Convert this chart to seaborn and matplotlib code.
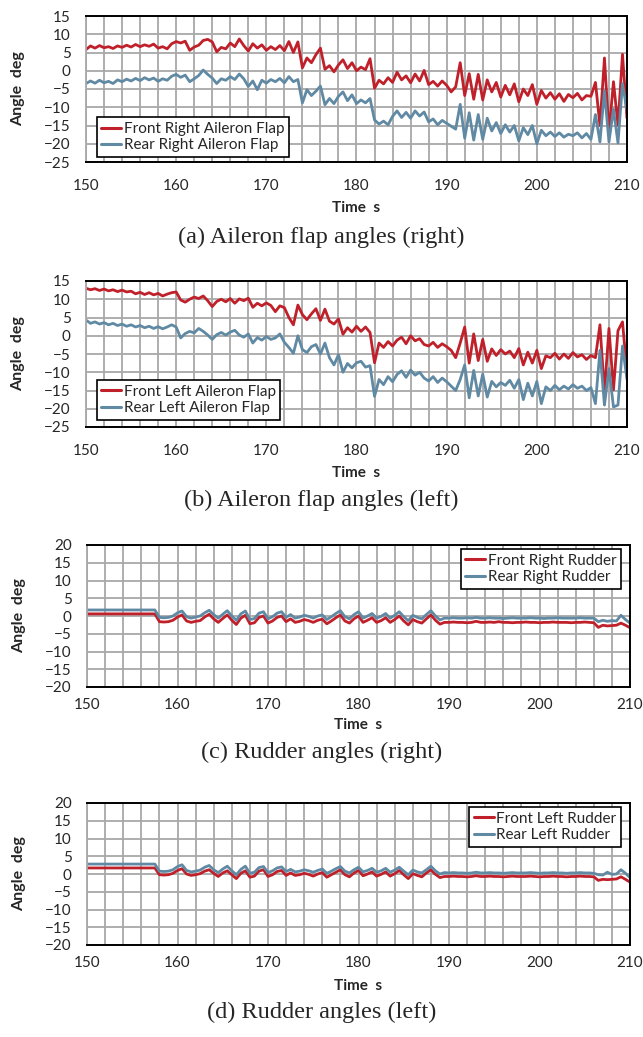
import numpy as np
import pandas as pd
import matplotlib
matplotlib.use("Agg")
import matplotlib.pyplot as plt
import seaborn as sns
from matplotlib.ticker import MultipleLocator

# sample times (s), one reading every 0.5 s
time = np.arange(150, 210.01, 0.5)

# (a) aileron flaps, right side
front_right_aileron = [
    5.8, 6.8, 6.2, 6.9, 6.3, 6.6, 6.1, 6.8, 6.4, 7.0, 6.5, 7.2, 6.6, 7.1, 6.7, 7.3,
    6.2, 6.6, 6.0, 7.4, 8.0, 7.6, 8.1, 5.6, 6.5, 7.0, 8.3, 8.6, 7.9, 5.2, 6.4, 6.0,
    7.6, 6.6, 8.7, 6.9, 5.4, 7.4, 6.2, 7.1, 5.6, 6.6, 5.8, 6.9, 5.5, 8.0, 5.0, 7.9,
    0.8, 3.5, 2.2, 4.4, 6.2, 0.4, 1.4, -0.3, 1.6, 3.0, 0.6, 2.2, 0.0, 1.0, 0.3, 3.3,
    -4.8, -2.6, -3.6, -1.9, -3.2, -0.4, -2.5, -1.4, -3.3, -0.9, -2.8, 0.1, -3.8, -2.9, -4.2, -2.8,
    -4.0, -5.8, -4.4, 2.2, -6.8, -0.8, -7.8, -1.0, -8.0, -2.5, -5.8, -3.2, -7.2, -4.0, -6.6, -3.6,
    -8.5, -5.0, -6.8, -3.8, -9.2, -5.4, -7.5, -6.0, -7.8, -6.3, -8.4, -6.5, -7.4, -6.2, -8.0, -6.8,
    -7.0, -3.2, -15.0, 3.5, -17.0, -3.0, -15.0, 4.5, -13.0,
]
rear_right_aileron = [
    -3.5, -2.8, -3.4, -2.6, -3.3, -2.9, -3.5, -2.5, -3.0, -2.3, -2.8, -2.1, -2.7, -1.9, -2.5, -2.0,
    -2.9, -2.2, -2.6, -1.5, -1.0, -1.8, -1.2, -3.0, -2.2, -1.3, 0.2, -1.0, -2.0, -3.5, -2.2, -2.6,
    -1.6, -2.4, -0.9, -2.2, -4.3, -2.8, -5.2, -2.6, -3.4, -2.4, -3.0, -2.1, -3.3, -1.6, -3.0, -2.4,
    -8.8, -5.2, -6.8, -5.6, -4.2, -9.3, -7.6, -9.0, -7.0, -5.8, -8.2, -6.6, -9.0, -8.0, -8.8, -7.6,
    -13.5, -14.6, -13.8, -14.8, -12.5, -11.0, -12.8, -11.4, -13.0, -11.0, -12.4, -11.3, -14.0, -13.2, -14.8, -13.6,
    -14.4, -15.2, -16.0, -9.2, -18.5, -11.5, -19.0, -12.0, -18.8, -13.0, -16.5, -14.2, -17.2, -14.8, -16.8, -15.0,
    -19.2, -15.6, -17.5, -15.0, -20.0, -16.3, -17.8, -16.8, -18.0, -17.0, -18.2, -17.4, -17.8, -17.0, -18.4, -17.2,
    -18.8, -12.0, -19.5, -5.5, -19.5, -10.5, -19.8, -3.5, -11.0,
]

# (b) aileron flaps, left side
front_left_aileron = [
    13.0, 12.6, 12.9, 12.4, 12.8, 12.3, 12.6, 12.1, 12.5, 12.0, 12.2, 11.5, 11.9, 11.3, 11.8, 11.2,
    11.6, 10.9, 11.4, 11.8, 12.0, 9.8, 9.2, 10.0, 10.6, 10.2, 10.9, 9.6, 8.0, 9.4, 10.0, 9.3,
    10.2, 8.9, 10.1, 9.6, 10.3, 7.8, 8.9, 8.2, 9.0, 8.3, 6.6, 8.2, 7.7, 5.0, 3.0, 8.4,
    5.8, 4.4, 6.0, 7.4, 4.2, 7.3, 4.0, 3.2, 4.6, 0.4, 2.2, 1.0, 2.6, 1.2, 2.4, 0.9,
    -7.4, -2.0, -3.2, -1.6, -2.8, -1.2, -0.4, -2.2, 0.0, -1.4, -0.8, -2.4, -2.8, -1.8, -3.2, -2.2,
    -3.0, -4.0, -6.0, -2.0, 2.4, -7.5, 0.5, -6.8, -1.0, -7.0, -3.6, -5.4, -3.8, -5.0, -4.2, -6.0,
    -3.5, -8.0, -4.5, -7.5, -4.0, -9.0, -5.5, -6.0, -4.8, -6.4, -5.0, -6.2, -4.6, -5.8, -5.2, -6.5,
    -5.4, -6.0, 3.0, -15.5, 2.0, -14.8, 1.4, 3.8, -10.0,
]
rear_left_aileron = [
    4.3, 3.4, 3.8, 3.2, 3.6, 3.0, 3.4, 2.8, 3.2, 2.6, 3.0, 2.4, 2.8, 2.2, 2.6, 2.0,
    2.5, 1.9, 2.4, 3.0, 2.4, -0.6, 0.6, 1.2, 0.8, 2.0, 1.2, 0.2, -1.0, 0.3, 0.9, 0.2,
    1.0, 1.5, 0.2, -0.4, 0.5, -2.0, -0.5, -1.2, -0.2, -1.0, -0.6, 0.5, -1.8, -3.2, -4.8, 0.0,
    -3.8, -4.6, -3.0, -2.4, -5.0, -2.0, -6.0, -8.0, -5.2, -10.0, -7.6, -8.8, -7.4, -7.0, -8.6, -8.2,
    -16.6, -12.0, -13.4, -11.2, -12.6, -10.6, -9.6, -11.4, -9.4, -10.8, -10.0, -11.6, -12.4, -11.2, -12.8, -11.6,
    -12.6, -13.8, -15.0, -12.0, -8.0, -17.0, -9.5, -16.5, -10.5, -16.8, -12.5, -14.0, -12.8, -13.6, -12.2, -14.4,
    -12.0, -17.5, -13.0, -16.5, -12.5, -18.6, -14.0, -15.0, -13.6, -14.8, -13.8, -14.6, -13.4, -14.4, -13.8, -15.0,
    -14.2, -18.6, -4.0, -19.0, -9.0, -19.5, -19.0, -2.8, -12.0,
]

# (c) rudders, right side
front_right_rudder = [
    0.6, 0.6, 0.6, 0.6, 0.6, 0.6, 0.6, 0.6, 0.6, 0.6, 0.6, 0.6, 0.6, 0.6, 0.6, 0.6,
    -1.6, -1.7, -1.6, -1.2, -0.3, 0.3, -1.4, -1.8, -1.5, -1.3, -0.3, 0.5, -0.8, -1.8, -0.7, 0.3,
    -1.2, -2.4, -0.6, 0.2, -2.2, -1.9, -0.4, 0.0, -2.0, -1.4, -0.4, 0.0, -1.6, -0.8, -1.8, -1.5,
    -1.0, -1.3, -1.8, -1.2, -0.9, -2.2, -1.4, -0.5, 0.3, -1.4, -2.0, -0.8, 0.0, -1.8, -1.2, -0.5,
    -1.8, -1.3, -0.5, -1.8, -1.0, 0.0, -1.4, -2.5, -1.0, -1.6, -2.0, -0.8, 0.3, -1.2, -2.3, -1.8,
    -1.8, -1.7, -1.8, -1.8, -1.9, -1.8, -1.5, -1.8, -1.8, -1.7, -1.8, -1.6, -1.8, -1.8, -1.9, -1.8,
    -1.8, -1.7, -1.8, -1.8, -1.9, -1.8, -1.8, -1.7, -1.8, -1.8, -1.8, -1.9, -1.8, -1.8, -1.7, -1.8,
    -1.9, -3.2, -2.6, -2.8, -2.7, -2.6, -2.0, -2.6, -3.3,
]
rear_right_rudder = [
    1.7, 1.7, 1.7, 1.7, 1.7, 1.7, 1.7, 1.7, 1.7, 1.7, 1.7, 1.7, 1.7, 1.7, 1.7, 1.7,
    -0.4, -0.5, -0.4, 0.0, 0.9, 1.4, -0.2, -0.6, -0.3, 0.0, 0.9, 1.6, 0.4, -0.6, 0.5, 1.5,
    0.0, -1.2, 0.6, 1.4, -1.0, -0.7, 0.8, 1.2, -0.8, -0.2, 0.8, 1.2, -0.4, 0.4, -0.6, -0.3,
    0.2, -0.1, -0.6, 0.0, 0.3, -1.0, -0.2, 0.7, 1.5, -0.2, -0.8, 0.4, 1.2, -0.6, 0.0, 0.7,
    -0.6, -0.1, 0.7, -0.6, 0.2, 1.2, -0.2, -1.3, 0.2, -0.4, -0.8, 0.4, 1.5, 0.0, -1.1, -0.6,
    -0.6, -0.5, -0.6, -0.6, -0.5, -0.6, -0.4, -0.6, -0.6, -0.5, -0.6, -0.6, -0.7, -0.6, -0.5, -0.6,
    -0.6, -0.6, -0.5, -0.6, -0.6, -0.7, -0.6, -0.6, -0.5, -0.6, -0.6, -0.6, -0.6, -0.5, -0.6, -0.6,
    -0.6, -1.6, -1.2, -1.5, -1.3, -1.4, 0.2, -1.0, -2.0,
]

# (d) rudders, left side
front_left_rudder = [
    1.7, 1.7, 1.7, 1.7, 1.7, 1.7, 1.7, 1.7, 1.7, 1.7, 1.7, 1.7, 1.7, 1.7, 1.7, 1.7,
    -0.2, -0.3, -0.2, 0.2, 1.0, 1.5, 0.0, -0.4, -0.2, 0.1, 0.8, 1.2, 0.2, -0.7, 0.3, 0.9,
    -0.2, -1.3, 0.2, 0.9, -0.9, -0.6, 0.8, 1.2, -0.7, -0.2, 0.7, 1.0, -0.4, 0.3, -0.4, -0.2,
    0.2, -0.1, -0.6, 0.0, 0.4, -0.9, -0.2, 0.5, 1.2, -0.2, -0.8, 0.3, 1.0, -0.5, 0.0, 0.6,
    -0.6, -0.1, 0.6, -0.6, 0.1, 1.0, -0.2, -1.3, 0.1, -0.4, -0.8, 0.3, 1.2, -0.1, -1.0, -0.7,
    -0.7, -0.6, -0.7, -0.7, -0.8, -0.7, -0.5, -0.7, -0.7, -0.6, -0.7, -0.7, -0.8, -0.7, -0.6, -0.7,
    -0.7, -0.7, -0.6, -0.7, -0.8, -0.7, -0.7, -0.6, -0.7, -0.7, -0.8, -0.7, -0.7, -0.6, -0.7, -0.7,
    -0.8, -1.8, -1.5, -1.6, -1.5, -1.4, -0.8, -1.5, -2.3,
]
rear_left_rudder = [
    2.8, 2.8, 2.8, 2.8, 2.8, 2.8, 2.8, 2.8, 2.8, 2.8, 2.8, 2.8, 2.8, 2.8, 2.8, 2.8,
    0.8, 0.7, 0.8, 1.2, 2.1, 2.6, 1.0, 0.6, 0.8, 1.1, 1.9, 2.4, 1.2, 0.4, 1.4, 2.2,
    0.9, -0.2, 1.3, 2.2, 0.2, 0.5, 1.8, 2.1, 0.4, 0.9, 1.7, 2.0, 0.7, 1.3, 0.6, 0.8,
    1.2, 0.9, 0.5, 1.0, 1.4, 0.2, 0.8, 1.5, 2.1, 0.8, 0.3, 1.2, 1.9, 0.6, 1.0, 1.6,
    0.5, 0.9, 1.6, 0.5, 1.1, 1.9, 0.8, -0.2, 1.1, 0.6, 0.3, 1.2, 2.2, 0.9, 0.0, 0.4,
    0.3, 0.4, 0.3, 0.3, 0.2, 0.3, 0.5, 0.3, 0.3, 0.4, 0.3, 0.3, 0.2, 0.3, 0.4, 0.3,
    0.3, 0.3, 0.4, 0.3, 0.2, 0.3, 0.3, 0.4, 0.3, 0.3, 0.2, 0.3, 0.3, 0.4, 0.3, 0.3,
    0.2, -0.2, -0.3, 0.5, -0.1, 0.0, 1.2, 0.2, -1.0,
]

RED = "#C0202A"
BLUE = "#6089A4"
GRID = "#A8A8A8"

sns.set_style("white")
plt.rcParams["font.family"] = ["Lato", "DejaVu Sans"]


def draw_panel(ax, front, rear, labels, ylims, legend_kw, xlab_y, xpad):
    df = pd.DataFrame({
        "time": np.concatenate([time, time]),
        "angle": np.concatenate([front, rear]),
        "series": [labels[0]] * len(time) + [labels[1]] * len(time),
    })
    sns.lineplot(data=df, x="time", y="angle", hue="series", palette=[RED, BLUE],
                 estimator=None, sort=False, linewidth=2.0, ax=ax)

    ax.set_xlim(150, 210)
    ax.set_ylim(*ylims)
    ax.set_xticks(range(150, 211, 10))
    ax.xaxis.set_minor_locator(MultipleLocator(2))
    ax.set_yticks(range(ylims[0], ylims[1] + 1, 5))
    ax.grid(which="both", axis="x", color=GRID, linewidth=1.3)
    ax.grid(which="major", axis="y", color=GRID, linewidth=1.3)
    ax.set_axisbelow(True)
    ax.tick_params(axis="both", which="both", length=0, labelsize=11)
    ax.tick_params(axis="y", pad=11)
    ax.tick_params(axis="x", pad=xpad)

    for side in ["top", "right", "bottom"]:
        ax.spines[side].set_color("black")
        ax.spines[side].set_linewidth(1.4)
    ax.spines["left"].set_color(GRID)
    ax.spines["left"].set_linewidth(1.3)

    ax.set_xlabel("Time  s", fontsize=11, fontweight="bold")
    ax.set_ylabel("Angle  deg", fontsize=11.5, fontweight="bold")
    ax.xaxis.set_label_coords(0.5, xlab_y)
    ax.yaxis.set_label_coords(-0.112, 0.5)

    leg = ax.legend(fontsize=11, frameon=True, fancybox=False, framealpha=1,
                    edgecolor="black", handlelength=1.3, handletextpad=0.15,
                    borderpad=0.3, labelspacing=0.15, borderaxespad=0, **legend_kw)
    leg.get_frame().set_linewidth(1.2)
    for line in leg.get_lines():
        line.set_linewidth(2.2)


fig = plt.figure(figsize=(6.43, 10.37), dpi=100)
H = 1037.0
W = 643.0


def add_axes(left, right, top, bottom):
    return fig.add_axes([left / W, 1 - bottom / H, (right - left) / W, (bottom - top) / H])


ax_a = add_axes(86, 627, 16, 162)
ax_b = add_axes(86, 627, 281, 427)
ax_c = add_axes(87, 630, 545, 687)
ax_d = add_axes(87, 630, 803, 945)

draw_panel(ax_a, front_right_aileron, rear_right_aileron,
           ["Front Right Aileron Flap", "Rear Right Aileron Flap"], (-25, 15),
           dict(loc="lower left", bbox_to_anchor=(0.02, 0.035)), -0.27, 12)
draw_panel(ax_b, front_left_aileron, rear_left_aileron,
           ["Front Left Aileron Flap", "Rear Left Aileron Flap"], (-25, 15),
           dict(loc="lower left", bbox_to_anchor=(0.02, 0.05)), -0.27, 12)
draw_panel(ax_c, front_right_rudder, rear_right_rudder,
           ["Front Right Rudder", "Rear Right Rudder"], (-20, 20),
           dict(loc="upper right", bbox_to_anchor=(0.983, 0.97)), -0.22, 8)
draw_panel(ax_d, front_left_rudder, rear_left_rudder,
           ["Front Left Rudder", "Rear Left Rudder"], (-20, 20),
           dict(loc="upper right", bbox_to_anchor=(0.983, 0.97)), -0.24, 8)

captions = [
    ("(a) Aileron flap angles (right)", 237),
    ("(b) Aileron flap angles (left)", 500),
    ("(c) Rudder angles (right)", 752),
    ("(d) Rudder angles (left)", 1012),
]
for text, y in captions:
    fig.text(0.5, 1 - y / H, text, ha="center", va="center",
             family="Liberation Serif", fontsize=17.5)

fig.savefig("out.png", dpi=100)
